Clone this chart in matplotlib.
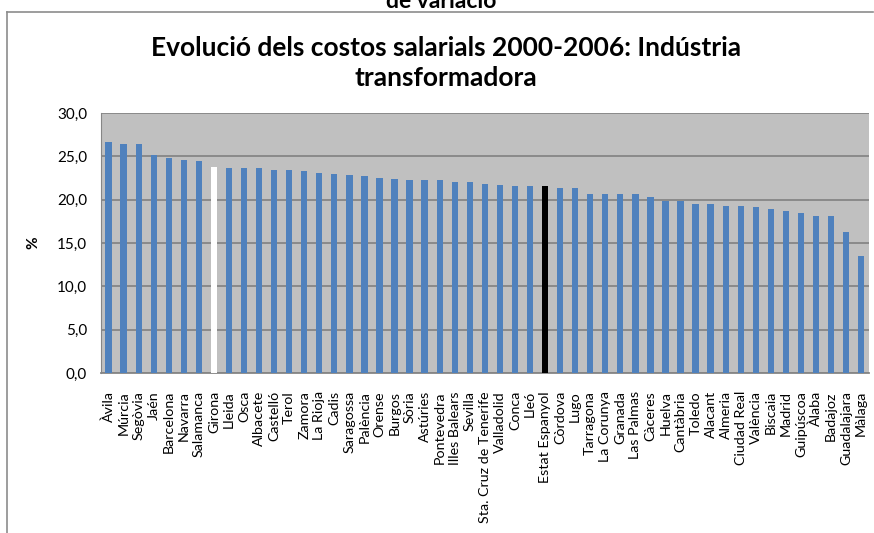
import matplotlib
matplotlib.use("Agg")
import matplotlib.pyplot as plt
from matplotlib.ticker import FuncFormatter
from matplotlib.lines import Line2D

provinces = [
    "Àvila", "Múrcia", "Segòvia", "Jaén", "Barcelona", "Navarra", "Salamanca",
    "Girona", "Lleida", "Osca", "Albacete", "Castelló", "Terol", "Zamora",
    "La Rioja", "Cadis", "Saragossa", "Palència", "Orense", "Burgos", "Sòria",
    "Astúries", "Pontevedra", "Illes Balears", "Sevilla", "Sta. Cruz de Tenerife",
    "Valladolid", "Conca", "Lleó", "Estat Espanyol", "Còrdova", "Lugo",
    "Tarragona", "La Corunya", "Granada", "Las Palmas", "Càceres", "Huelva",
    "Cantàbria", "Toledo", "Alacant", "Almeria", "Ciudad Real", "València",
    "Biscaia", "Madrid", "Guipúscoa", "Àlaba", "Badajoz", "Guadalajara", "Màlaga",
]
variation = [
    26.7, 26.45, 26.45, 25.2, 24.8, 24.6, 24.5,
    23.8, 23.7, 23.7, 23.7, 23.4, 23.4, 23.3,
    23.1, 23.0, 22.85, 22.7, 22.55, 22.4, 22.25,
    22.25, 22.25, 22.0, 22.0, 21.85,
    21.7, 21.55, 21.55, 21.55, 21.3, 21.3,
    20.7, 20.7, 20.7, 20.7, 20.3, 19.8,
    19.8, 19.5, 19.5, 19.25, 19.25, 19.1,
    18.95, 18.65, 18.5, 18.1, 18.1, 16.3, 13.5,
]
highlight_white = "Girona"
highlight_black = "Estat Espanyol"

plt.rcParams['font.family'] = ['Lato', 'DejaVu Sans']

fig = plt.figure(figsize=(8.74, 5.33), dpi=100)
ax = fig.add_axes([0.1156, 0.3002, 0.8783, 0.4878])

colors = []
for p in provinces:
    if p == highlight_white:
        colors.append("white")
    elif p == highlight_black:
        colors.append("black")
    else:
        colors.append("#4F81BD")

x = range(len(provinces))
ax.bar(x, variation, width=0.42, color=colors, zorder=3)

ax.set_facecolor("#C0C0C0")
ax.set_xlim(-0.5, len(provinces) - 0.5)
ax.set_ylim(0, 30)
ax.set_yticks([0, 5, 10, 15, 20, 25, 30])
ax.yaxis.set_major_formatter(FuncFormatter(lambda v, pos: f"{v:.1f}".replace(".", ",")))
ax.grid(axis="y", color="#868686", linewidth=1.3, zorder=1)
ax.set_xticks(list(x))
ax.set_xticklabels(provinces, rotation=90, fontsize=10.3)
ax.tick_params(axis="x", length=0, pad=13)
ax.tick_params(axis="y", length=0, pad=10, labelsize=11)
for s in ["top", "right"]:
    ax.spines[s].set_visible(False)
ax.spines["left"].set_color("#868686")
ax.spines["bottom"].set_color("#868686")
ax.spines["bottom"].set_linewidth(1.3)

ax.set_ylabel("%", fontsize=11, fontweight="bold", labelpad=12)

fig.text(0.51, 0.882, "Evolució dels costos salarials 2000-2006: Indústria\ntransformadora",
         ha="center", va="center", fontsize=19, fontweight="bold", linespacing=1.28)
# tail of the previous chart's title, cut off at the top edge
fig.text(0.505, 0.997, "de variació", ha="center", va="center", fontsize=16.5, fontweight="bold")

# outer chart frame (partly cut off)
fig.add_artist(Line2D([7 / 874, 873 / 874], [1 - 12 / 533, 1 - 12 / 533],
                      transform=fig.transFigure, color="#8c8c8c", linewidth=1.2))
fig.add_artist(Line2D([7 / 874, 7 / 874], [0, 1 - 12 / 533],
                      transform=fig.transFigure, color="#8c8c8c", linewidth=1.2))

fig.savefig("out.png", dpi=100)
